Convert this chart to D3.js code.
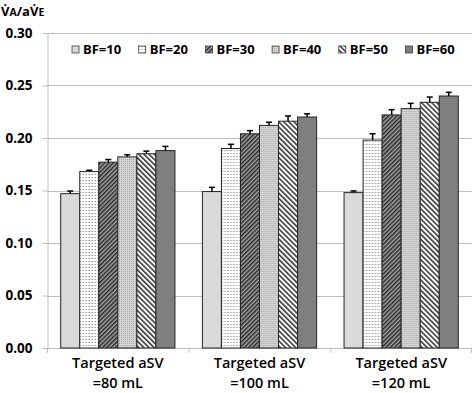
<!DOCTYPE html>
<html>
<head>
<meta charset="utf-8">
<script src="https://cdn.jsdelivr.net/npm/d3@7"></script>
<style>
  html, body { margin: 0; padding: 0; background: #fff; }
  svg { display: block; }
</style>
</head>
<body>
<div id="chart"></div>
<script>
// Groups along the x axis (two label lines each)
const categoryLine1 = ["Targeted aSV", "Targeted aSV", "Targeted aSV"];
const categoryLine2 = ["=80 mL", "=100 mL", "=120 mL"];
const seriesNames = ["BF=10", "BF=20", "BF=30", "BF=40", "BF=50", "BF=60"];

// mean values, one array per series (one value per group)
const bf10 = [0.147, 0.149, 0.148];
const bf20 = [0.168, 0.190, 0.198];
const bf30 = [0.177, 0.204, 0.222];
const bf40 = [0.182, 0.212, 0.228];
const bf50 = [0.185, 0.216, 0.234];
const bf60 = [0.188, 0.220, 0.240];

// upper error bars
const err10 = [0.0025, 0.004, 0.0016];
const err20 = [0.0013, 0.004, 0.006];
const err30 = [0.0025, 0.003, 0.005];
const err40 = [0.002, 0.003, 0.005];
const err50 = [0.0025, 0.005, 0.005];
const err60 = [0.004, 0.003, 0.0035];

const yTicks = [0, 0.05, 0.10, 0.15, 0.20, 0.25, 0.30];

const seriesValues = [bf10, bf20, bf30, bf40, bf50, bf60];
const seriesErrors = [err10, err20, err30, err40, err50, err60];

const width = 473, height = 393;
const margin = { top: 33, right: 1, bottom: 45, left: 47 };
const innerWidth = width - margin.left - margin.right;
const innerHeight = height - margin.top - margin.bottom;
const FONT = "'Open Sans', 'DejaVu Sans', sans-serif";

const svg = d3.select("#chart").append("svg")
  .attr("width", width)
  .attr("height", height);

// fill patterns, one per series
const defs = svg.append("defs");

defs.append("pattern").attr("id", "p1").attr("width", 1).attr("height", 1)
  .attr("patternUnits", "userSpaceOnUse")
  .append("rect").attr("width", 1).attr("height", 1).attr("fill", "#d9d9d9");

const p2 = defs.append("pattern").attr("id", "p2").attr("width", 3).attr("height", 3)
  .attr("patternUnits", "userSpaceOnUse");
p2.append("rect").attr("width", 3).attr("height", 3).attr("fill", "#ffffff");
p2.append("rect").attr("width", 1).attr("height", 1).attr("fill", "#9a9a9a");
p2.append("rect").attr("x", 2).attr("width", 1).attr("height", 1).attr("fill", "#c8c8c8");

const p3 = defs.append("pattern").attr("id", "p3").attr("width", 3).attr("height", 3)
  .attr("patternUnits", "userSpaceOnUse").attr("patternTransform", "rotate(45)");
p3.append("rect").attr("width", 3).attr("height", 3).attr("fill", "#a6a6a6");
p3.append("rect").attr("width", 1.5).attr("height", 3).attr("fill", "#262626");

const p4 = defs.append("pattern").attr("id", "p4").attr("width", 2).attr("height", 2)
  .attr("patternUnits", "userSpaceOnUse");
p4.append("rect").attr("width", 2).attr("height", 2).attr("fill", "#d4d4d4");
p4.append("rect").attr("width", 1).attr("height", 1).attr("fill", "#a8a8a8");

const p5 = defs.append("pattern").attr("id", "p5").attr("width", 3.6).attr("height", 3.6)
  .attr("patternUnits", "userSpaceOnUse").attr("patternTransform", "rotate(-45)");
p5.append("rect").attr("width", 3.6).attr("height", 3.6).attr("fill", "#ffffff");
p5.append("rect").attr("width", 1.6).attr("height", 3.6).attr("fill", "#3a3a3a");

defs.append("pattern").attr("id", "p6").attr("width", 1).attr("height", 1)
  .attr("patternUnits", "userSpaceOnUse")
  .append("rect").attr("width", 1).attr("height", 1).attr("fill", "#7f7f7f");

const fills = ["url(#p1)", "url(#p2)", "url(#p3)", "url(#p4)", "url(#p5)", "url(#p6)"];

const g = svg.append("g").attr("transform", `translate(${margin.left},${margin.top})`);

const x0 = d3.scaleBand().domain(d3.range(categoryLine1.length)).range([0, innerWidth]);
const x1 = d3.scaleBand().domain(d3.range(seriesNames.length))
  .range([0, x0.bandwidth()]).paddingInner(0).paddingOuter(0.72);
const y = d3.scaleLinear().domain([0, 0.30]).range([innerHeight, 0]);

// gridlines
g.append("g").selectAll("line").data(yTicks.slice(1)).join("line")
  .attr("x1", 0).attr("x2", innerWidth)
  .attr("y1", d => Math.round(y(d)) + 0.5).attr("y2", d => Math.round(y(d)) + 0.5)
  .attr("stroke", "#bfbfbf").attr("stroke-width", 1);

// y axis
const yAxisG = g.append("g").attr("transform", "translate(0.5,0)")
  .call(d3.axisLeft(y).tickValues(yTicks).tickFormat(d3.format(".2f")).tickSize(5).tickSizeOuter(0));
yAxisG.select(".domain").attr("stroke", "#bfbfbf");
yAxisG.selectAll(".tick line").attr("stroke", "#bfbfbf");
yAxisG.selectAll(".tick text").attr("x", -15)
  .attr("font-family", FONT).attr("font-size", 13.5).attr("font-weight", "bold").attr("fill", "#000");

// x axis
g.append("line").attr("x1", 0).attr("x2", innerWidth)
  .attr("y1", innerHeight + 0.5).attr("y2", innerHeight + 0.5)
  .attr("stroke", "#bfbfbf");
g.append("g").selectAll("line").data(d3.range(categoryLine1.length + 1)).join("line")
  .attr("x1", i => i === categoryLine1.length ? innerWidth - 0.5 : x0(i) + 0.5)
  .attr("x2", i => i === categoryLine1.length ? innerWidth - 0.5 : x0(i) + 0.5)
  .attr("y1", innerHeight).attr("y2", innerHeight + 5)
  .attr("stroke", "#bfbfbf");

// bars
const groups = g.append("g").selectAll("g").data(d3.range(categoryLine1.length)).join("g")
  .attr("transform", c => `translate(${x0(c)},0)`);

groups.selectAll("rect").data(c => seriesValues.map((vals, s) => ({ s, v: vals[c], e: seriesErrors[s][c] })))
  .join("rect")
  .attr("x", d => x1(d.s))
  .attr("y", d => y(d.v))
  .attr("width", x1.bandwidth())
  .attr("height", d => innerHeight - y(d.v))
  .attr("fill", d => fills[d.s])
  .attr("stroke", "#262626")
  .attr("stroke-width", 1);

// error bars (upper only)
groups.selectAll("g.err").data(c => seriesValues.map((vals, s) => ({ s, v: vals[c], e: seriesErrors[s][c] })))
  .join("g").attr("class", "err")
  .each(function (d) {
    const cx = x1(d.s) + x1.bandwidth() / 2;
    const sel = d3.select(this);
    sel.append("line").attr("x1", cx).attr("x2", cx).attr("y1", y(d.v)).attr("y2", y(d.v + d.e))
      .attr("stroke", "#000").attr("stroke-width", 1.5);
    sel.append("line").attr("x1", cx - 3).attr("x2", cx + 3).attr("y1", y(d.v + d.e)).attr("y2", y(d.v + d.e))
      .attr("stroke", "#000").attr("stroke-width", 1.5);
  });

// category labels
const catLabels = g.append("g").selectAll("text").data(d3.range(categoryLine1.length)).join("text")
  .attr("x", c => x0(c) + x0.bandwidth() / 2)
  .attr("y", innerHeight + 20)
  .attr("text-anchor", "middle")
  .attr("font-family", FONT).attr("font-size", 14.5).attr("font-weight", 600).attr("fill", "#000");
catLabels.append("tspan").attr("x", c => x0(c) + x0.bandwidth() / 2).attr("dy", 0).text(c => categoryLine1[c]);
catLabels.append("tspan").attr("x", c => x0(c) + x0.bandwidth() / 2).attr("dy", 20).text(c => categoryLine2[c]);

// legend
const legend = svg.append("g").attr("transform", "translate(72,46)");
const item = legend.selectAll("g").data(seriesNames).join("g")
  .attr("transform", (d, i) => `translate(${i * 66.7},0)`);
item.append("rect").attr("width", 7).attr("height", 7)
  .attr("fill", (d, i) => fills[i]).attr("stroke", "#404040").attr("stroke-width", 0.8);
item.append("text").attr("x", 11).attr("y", 8)
  .attr("font-family", FONT).attr("font-size", 13).attr("font-weight", "bold").attr("fill", "#000")
  .text(d => d);

// y axis title
const title = svg.append("text").attr("x", 1).attr("y", 16)
  .attr("font-family", FONT).attr("font-size", 13).attr("font-weight", "bold").attr("fill", "#000");
title.append("tspan").text("V\u0307");
title.append("tspan").attr("font-size", 10.5).text("A");
title.append("tspan").text("/aV\u0307");
title.append("tspan").attr("font-size", 10.5).text("E");
</script>
</body>
</html>
